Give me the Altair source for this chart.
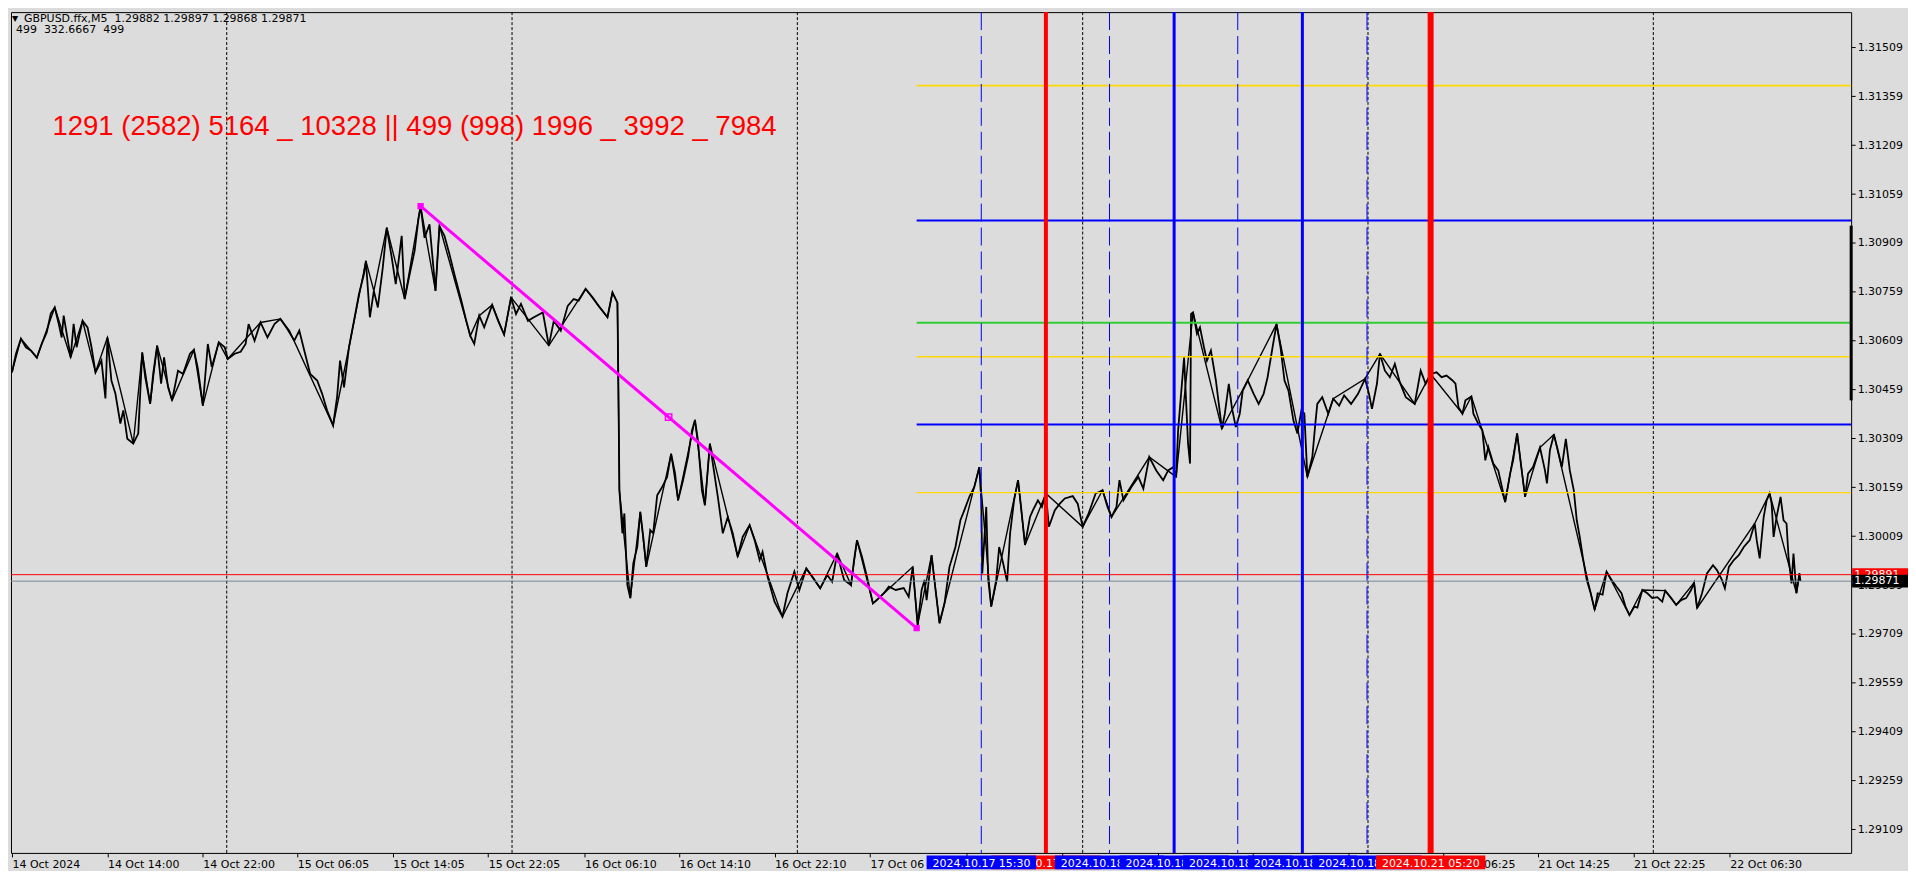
import altair as alt
import pandas as pd

W, H = 1845, 843
X_DOMAIN = [0, 1851]
Y_DOMAIN = [1.290370, 1.316176]
BG = "#DCDCDC"
FONT = "DejaVu Sans"

# ---------------- close series (bar index, price) ----------------
seg_14oct = [(1,1.30512),(5,1.30569),(10,1.30615),(15,1.30589),(20,1.30579),(26,1.30557),(31,1.30600),(36,1.30635),(40,1.30692),(44,1.30711),(48,1.30661),(51,1.30619),(53,1.30686),(60,1.30558),(63,1.30661),(66,1.30589),(72,1.30670),(77,1.30650),(81,1.30589),(85,1.30512),(91,1.30548),(95,1.30432),(97,1.30619),(101,1.30487),(105,1.30447),(110,1.30355),(113,1.30395),(117,1.30308),(123,1.30293),(128,1.30324),(132,1.30573),(135,1.30497),(140,1.30415),(143,1.30507),(147,1.30594),(151,1.30477),(154,1.30558),(158,1.30466),(162,1.30426),(168,1.30517),(173,1.30507),(180,1.30569),(184,1.30581),(188,1.30523),(193,1.30410),(198,1.30599),(202,1.30528),(209,1.30604),(215,1.30589),(218,1.30553),(225,1.30569),(231,1.30575),(236,1.30599),(239,1.30660),(245,1.30609),(251,1.30665),(258,1.30619),(265,1.30660),(271,1.30676),(278,1.30645),(285,1.30609),(290,1.30640),(295,1.30579)]
seg_15oct = [(301,1.30507),(308,1.30487),(313,1.30446),(318,1.30395),(324,1.30349),(328,1.30436),(331,1.30548),(335,1.30466),(340,1.30589),(345,1.30670),(350,1.30752),(355,1.30813),(357,1.30854),(361,1.30681),(365,1.30762),(369,1.30711),(374,1.30834),(378,1.30956),(383,1.30864),(387,1.30783),(393,1.30931),(396,1.30737),(401,1.30813),(406,1.30885),(410,1.30987),(412,1.31022),(416,1.30925),(421,1.30966),(427,1.30762),(431,1.30961),(436,1.30931),(441,1.30875),(446,1.30813),(453,1.30732),(458,1.30670),(462,1.30624),(466,1.30599),(471,1.30686),(476,1.30650),(484,1.30719),(490,1.30670),(496,1.30628),(503,1.30742),(508,1.30691),(513,1.30722),(520,1.30670),(526,1.30681),(535,1.30696),(538,1.30645),(541,1.30594),(546,1.30670),(553,1.30640),(560,1.30716),(566,1.30737),(571,1.30732),(578,1.30768),(585,1.30742),(591,1.30716),(600,1.30681),(605,1.30757),(610,1.30726)]
seg_16oct = [(611,1.30466),(612,1.30150),(615,1.30018),(617,1.30079),(620,1.29859),(623,1.29819),(626,1.29926),(630,1.29976),(633,1.30084),(636,1.30007),(639,1.29915),(643,1.30028),(646,1.30018),(650,1.30135),(655,1.30160),(660,1.30191),(664,1.30262),(668,1.30201),(671,1.30119),(676,1.30181),(681,1.30252),(685,1.30334),(688,1.30366),(691,1.30303),(695,1.30150),(698,1.30104),(703,1.30293),(706,1.30232),(711,1.30130),(716,1.30018),(721,1.30068),(726,1.30018),(731,1.29946),(736,1.30007),(743,1.30043),(748,1.29997),(753,1.29936),(756,1.29961),(761,1.29885),(768,1.29808),(776,1.29762),(781,1.29834),(788,1.29900),(793,1.29844),(800,1.29910),(806,1.29885),(814,1.29849),(821,1.29890),(826,1.29869),(831,1.29956),(838,1.29875),(845,1.29859),(848,1.29936),(851,1.29997),(856,1.29946),(861,1.29885),(867,1.29803),(871,1.29813),(878,1.29834),(883,1.29854),(890,1.29844),(898,1.29850),(903,1.29823)]
seg_17oct = [(907,1.29915),(912,1.29737),(916,1.29844),(919,1.29875),(921,1.29813),(926,1.29951),(930,1.29844),(934,1.29742),(939,1.29803),(944,1.29915),(950,1.29976),(955,1.30058),(959,1.30089),(964,1.30130),(969,1.30160),(974,1.30221),(976,1.30119),(977,1.29895),(981,1.30099),(983,1.29875),(986,1.29793),(991,1.29875),(994,1.29976),(998,1.29926),(1002,1.29869),(1005,1.30018),(1009,1.30119),(1013,1.30181),(1016,1.30099),(1020,1.29982),(1025,1.30068),(1028,1.30089),(1033,1.30119),(1037,1.30099),(1041,1.30140),(1044,1.30038),(1050,1.30089),(1055,1.30109),(1060,1.30125),(1068,1.30132),(1073,1.30109),(1078,1.30038),(1084,1.30079),(1091,1.30140),(1098,1.30150),(1103,1.30099),(1107,1.30068),(1112,1.30099),(1115,1.30181),(1119,1.30119),(1127,1.30160),(1134,1.30191),(1139,1.30155),(1145,1.30252),(1152,1.30211),(1159,1.30181),(1164,1.30211),(1169,1.30221),(1172,1.30191)]
seg_18oct = [(1174,1.30334),(1180,1.30558),(1184,1.30293),(1186,1.30232),(1187,1.30691),(1189,1.30696),(1193,1.30630),(1196,1.30650),(1200,1.30589),(1203,1.30548),(1207,1.30579),(1212,1.30487),(1218,1.30339),(1221,1.30385),(1225,1.30477),(1228,1.30405),(1232,1.30344),(1236,1.30385),(1239,1.30456),(1244,1.30487),(1250,1.30446),(1255,1.30415),(1260,1.30446),(1264,1.30497),(1269,1.30589),(1273,1.30660),(1277,1.30589),(1281,1.30487),(1285,1.30456),(1290,1.30364),(1294,1.30324),(1298,1.30395),(1301,1.30385),(1304,1.30191),(1309,1.30252),(1312,1.30354),(1314,1.30415),(1319,1.30436),(1325,1.30385),(1330,1.30431),(1336,1.30410),(1341,1.30441),(1348,1.30415),(1355,1.30446),(1362,1.30492),(1366,1.30446),(1369,1.30400),(1374,1.30477),(1377,1.30569),(1382,1.30517),(1387,1.30497),(1392,1.30538),(1397,1.30482),(1403,1.30436),(1412,1.30415),(1418,1.30517),(1423,1.30477),(1428,1.30507),(1434,1.30512),(1439,1.30497),(1444,1.30502),(1450,1.30487),(1453,1.30477)]
seg_21oct = [(1456,1.30405),(1460,1.30385),(1463,1.30426),(1469,1.30438),(1471,1.30385),(1476,1.30354),(1480,1.30334),(1483,1.30242),(1486,1.30283),(1491,1.30232),(1496,1.30211),(1503,1.30114),(1508,1.30201),(1511,1.30242),(1515,1.30325),(1520,1.30201),(1523,1.30130),(1526,1.30201),(1531,1.30221),(1538,1.30281),(1543,1.30211),(1545,1.30171),(1548,1.30273),(1552,1.30321),(1556,1.30273),(1560,1.30221),(1564,1.30308),(1568,1.30211),(1572,1.30150),(1575,1.30058),(1578,1.30007),(1581,1.29946),(1585,1.29875),(1589,1.29834),(1593,1.29783),(1596,1.29834),(1601,1.29830),(1605,1.29900),(1610,1.29875),(1615,1.29854),(1620,1.29834),(1624,1.29793),(1628,1.29767),(1633,1.29793),(1636,1.29790),(1641,1.29844),(1646,1.29834),(1651,1.29819),(1656,1.29822),(1661,1.29808),(1664,1.29842),(1670,1.29819),(1675,1.29798),(1680,1.29813),(1685,1.29819),(1690,1.29844),(1693,1.29866),(1696,1.29788),(1701,1.29834),(1706,1.29895),(1712,1.29920),(1716,1.29905),(1721,1.29875),(1724,1.29849),(1728,1.29915),(1733,1.29936),(1738,1.29951),(1743,1.29976),(1749,1.29997),(1754,1.30048),(1756,1.29997),(1759,1.29941),(1763,1.30068),(1766,1.30119),(1769,1.30140),(1771,1.30109),(1773,1.30007),(1776,1.30068),(1780,1.30130),(1783,1.30058),(1786,1.30048),(1788,1.29946),(1791,1.29864),(1793,1.29956),(1796,1.29834),(1799,1.29895),(1800,1.29871)]

# swing overlay line (bar index, price)
swings = [(1,1.30512),(10,1.30615),(26,1.30557),(44,1.30711),(60,1.30558),(72,1.30670),(85,1.30512),(97,1.30619),(111,1.30446),(123,1.30293),(132,1.30573),(140,1.30415),(147,1.30594),(162,1.30426),(184,1.30581),(193,1.30410),(209,1.30604),(218,1.30553),(251,1.30665),(271,1.30676),(280,1.30640),(324,1.30349),(340,1.30589),(357,1.30854),(365,1.30762),(378,1.30956),(396,1.30737),(412,1.31022),(427,1.30762),(431,1.30961),(462,1.30624),(471,1.30686),(484,1.30719),(496,1.30628),(503,1.30742),(541,1.30594),(578,1.30768),(600,1.30681),(605,1.30757),(610,1.30726),(612,1.30150),(623,1.29819),(633,1.30084),(639,1.29915),(664,1.30262),(671,1.30119),(688,1.30366),(698,1.30104),(703,1.30293),(731,1.29946),(743,1.30043),(776,1.29762),(800,1.29910),(814,1.29849),(831,1.29956),(845,1.29859),(851,1.29997),(867,1.29803),(907,1.29915),(912,1.29737),(926,1.29951),(934,1.29742),(974,1.30221),(986,1.29793),(1013,1.30181),(1020,1.29982),(1041,1.30140),(1078,1.30038),(1098,1.30150),(1107,1.30068),(1145,1.30252),(1172,1.30191),(1189,1.30696),(1218,1.30339),(1244,1.30487),(1273,1.30660),(1304,1.30191),(1330,1.30431),(1362,1.30492),(1377,1.30569),(1412,1.30415),(1428,1.30507),(1460,1.30385),(1469,1.30438),(1503,1.30114),(1515,1.30325),(1523,1.30130),(1538,1.30281),(1552,1.30321),(1593,1.29783),(1605,1.29900),(1628,1.29767),(1641,1.29844),(1664,1.29842),(1675,1.29798),(1693,1.29866),(1696,1.29788),(1754,1.30048),(1769,1.30140),(1796,1.29834),(1799,1.29895)]

# ---------------- objects ----------------
trend_bars = [412, 911]
trend_prices = [1.31022, 1.29727]

level_prices = [1.31392, 1.30978, 1.30664, 1.30560, 1.30352, 1.30143]
level_colors = ["#FFD700", "#0000FF", "#32CD32", "#FFD700", "#0000FF", "#FFD700"]
level_widths = [2, 2, 2, 1.5, 2, 1.3]
level_start_bar = 911

bid_price, ask_price = 1.29871, 1.29891

grid_bars = [217, 504, 791, 1078, 1365, 1652]

dashed_bars = [976, 1105, 1234, 1364]
dashed_labels = ["2024.10.17 15:30", "2024.10.18", "2024.10.18", "2024.10.18"]
blue_bars = [1170, 1299]
blue_labels = ["2024.10.18", "2024.10.18"]
red_bars = [1041, 1428]
red_labels = ["2024.10.17 20:55", "2024.10.21 05:20"]
red_widths = [4, 6]

range_bar = [1.30962, 1.30426]

tick_bars = [1, 97, 193, 288, 384, 480, 577, 672, 768, 864, 961, 1057, 1154, 1249, 1345, 1441, 1536, 1632, 1729]
tick_labels = ["14 Oct 2024", "14 Oct 14:00", "14 Oct 22:00", "15 Oct 06:05", "15 Oct 14:05", "15 Oct 22:05",
               "16 Oct 06:10", "16 Oct 14:10", "16 Oct 22:10", "17 Oct 06", "", "",
               "", "", "", "21 Oct 06:25", "21 Oct 14:25", "21 Oct 22:25",
               "22 Oct 06:30"]
price_ticks = [round(1.29109 + 0.0015 * k, 5) for k in range(17)]

header_line1 = "GBPUSD.ffx,M5\u00a0\u00a01.29882 1.29897 1.29868 1.29871"
header_line2 = "499\u00a0\u00a0332.6667\u00a0\u00a0499"
big_text = "1291 (2582) 5164 _ 10328 || 499 (998) 1996 _ 3992 _ 7984"

# ---------------- scales / axes ----------------
label_expr = ("[" + ",".join("'%s'" % s for s in tick_labels) + "][indexof(["
              + ",".join(str(b) for b in tick_bars) + "], datum.value)]")

xs = alt.Scale(domain=X_DOMAIN, nice=False, zero=False)
ys = alt.Scale(domain=Y_DOMAIN, nice=False, zero=False)
x_axis = alt.Axis(values=tick_bars, labelExpr=label_expr, labelAlign="left", labelBaseline="alphabetic",
                  labelPadding=11, tickSize=4, tickColor="black", tickWidth=1, domain=False, grid=False,
                  labelFont=FONT, labelFontSize=11, labelColor="black", labelFlush=False,
                  labelOverlap=False, title=None)
y_axis = alt.Axis(orient="right", values=price_ticks, format=".5f", tickSize=4, tickColor="black",
                  tickWidth=1, domain=False, grid=False, labelFont=FONT, labelFontSize=11,
                  labelColor="black", labelPadding=2, labelOverlap=False, labelFlush=False, title=None)


def X(f):
    return alt.X(f, type="quantitative", scale=xs, axis=x_axis)


def Y(f):
    return alt.Y(f, type="quantitative", scale=ys, axis=y_axis)


def pts(lst):
    return pd.DataFrame(lst, columns=["bar", "price"])


close_df = pts(seg_14oct + seg_15oct + seg_16oct + seg_17oct + seg_18oct + seg_21oct)
swing_df = pts(swings)
dummy = pd.DataFrame({"a": [0]})

layers = []

# dotted grid
layers.append(alt.Chart(pd.DataFrame({"bar": grid_bars})).mark_rule(
    color="black", strokeWidth=1, strokeDash=[3, 2]).encode(x=X("bar")))

# price lines
layers.append(alt.Chart(close_df).mark_line(color="black", strokeWidth=1.8).encode(x=X("bar"), y=Y("price")))
layers.append(alt.Chart(swing_df).mark_line(color="black", strokeWidth=1.4).encode(x=X("bar"), y=Y("price")))

# horizontal levels
lev_df = pd.DataFrame({"b0": level_start_bar, "b1": X_DOMAIN[1], "price": level_prices,
                       "color": level_colors, "w": level_widths})
layers.append(alt.Chart(lev_df).mark_rule().encode(
    x=X("b0"), x2="b1:Q", y=Y("price"),
    color=alt.Color("color:N", scale=None), strokeWidth=alt.StrokeWidth("w:Q", scale=None)))

bidask_df = pd.DataFrame({"b0": X_DOMAIN[0], "b1": X_DOMAIN[1], "price": [ask_price, bid_price],
                          "color": ["#FF0000", "#778899"]})
layers.append(alt.Chart(bidask_df).mark_rule(strokeWidth=1).encode(
    x=X("b0"), x2="b1:Q", y=Y("price"), color=alt.Color("color:N", scale=None)))

# vertical lines
layers.append(alt.Chart(pd.DataFrame({"bar": dashed_bars})).mark_rule(
    color="#0000FF", strokeWidth=1, strokeDash=[18, 6]).encode(x=X("bar"), y=alt.value(0), y2=alt.value(H)))
layers.append(alt.Chart(pd.DataFrame({"bar": blue_bars})).mark_rule(
    color="#0000FF", strokeWidth=3).encode(x=X("bar")))
layers.append(alt.Chart(pd.DataFrame({"bar": red_bars, "w": red_widths})).mark_rule(
    color="#FF0000").encode(x=X("bar"), strokeWidth=alt.StrokeWidth("w:Q", scale=None)))

# trend line
trend_df = pd.DataFrame({"bar": trend_bars, "price": trend_prices})
mid_df = pd.DataFrame({"bar": [sum(trend_bars) / 2], "price": [sum(trend_prices) / 2]})
layers.append(alt.Chart(trend_df).mark_line(color="#FF00FF", strokeWidth=3).encode(x=X("bar"), y=Y("price")))
layers.append(alt.Chart(trend_df).mark_square(color="#FF00FF", size=40, opacity=1).encode(x=X("bar"), y=Y("price")))
layers.append(alt.Chart(mid_df).mark_square(color="#FF00FF", size=40, filled=False, strokeWidth=1.5,
                                            opacity=1).encode(x=X("bar"), y=Y("price")))

# right-edge range bar
layers.append(alt.Chart(pd.DataFrame({"p0": [range_bar[0]], "p1": [range_bar[1]]})).mark_rule(
    color="black", strokeWidth=3).encode(x=alt.value(W), y=Y("p0"), y2="p1:Q"))

# texts
layers.append(alt.Chart(dummy).mark_text(align="left", baseline="alphabetic", font=FONT, fontSize=8,
                                         color="black", text="\u25bc").encode(x=alt.value(1), y=alt.value(8.5)))
layers.append(alt.Chart(dummy).mark_text(align="left", baseline="alphabetic", font=FONT, fontSize=11,
                                         color="black", text=header_line1).encode(x=alt.value(13), y=alt.value(9.5)))
layers.append(alt.Chart(dummy).mark_text(align="left", baseline="alphabetic", font=FONT, fontSize=11,
                                         color="black", text=header_line2).encode(x=alt.value(5), y=alt.value(21)))
layers.append(alt.Chart(dummy).mark_text(align="left", baseline="alphabetic", font="Liberation Sans",
                                         fontSize=27.6, color="#FF0000", text=big_text).encode(
    x=alt.value(41.5), y=alt.value(123)))

# time labels of vertical lines (drawn in MT4 order)
boxes = [(red_bars[0], red_labels[0], "#FF0000")]
boxes += sorted([(b, l, "#0000FF") for b, l in zip(dashed_bars + blue_bars, dashed_labels + blue_labels)])
boxes += [(red_bars[1], red_labels[1], "#FF0000")]
for b, lab, col in boxes:
    bdf = pd.DataFrame({"b0": [b - 55], "b1": [b + 55], "bt": [b - 49], "t": [lab]})
    layers.append(alt.Chart(bdf).mark_rect(color=col, opacity=1).encode(
        x=X("b0"), x2="b1:Q", y=alt.value(H + 2.5), y2=alt.value(H + 16.5)))
    layers.append(alt.Chart(bdf).mark_text(align="left", baseline="alphabetic", font=FONT, fontSize=11,
                                           color="white").encode(x=X("bt"), y=alt.value(H + 14.5), text="t:N"))

# price labels on the scale
for price, col in [(ask_price, "#FF0000"), (bid_price, "#000000")]:
    pdf = pd.DataFrame({"price": [price], "hi": [price + 0.0002], "lo": [price - 0.00019],
                        "t": ["%.5f" % price]})
    layers.append(alt.Chart(pdf).mark_rect(color=col, opacity=1).encode(
        x=alt.value(W + 1), x2=alt.value(W + 57), y=Y("hi"), y2="lo:Q"))
    layers.append(alt.Chart(pdf).mark_text(align="left", baseline="middle", font=FONT, fontSize=11,
                                           color="white").encode(x=alt.value(W + 3), y=Y("price"), text="t:N"))

chart = alt.layer(*layers).properties(
    width=W, height=H, background=BG, padding=0
).configure_view(stroke="black", strokeWidth=1, fill=BG)

chart.save("out.html", embed_options={"renderer": "svg", "actions": False})
